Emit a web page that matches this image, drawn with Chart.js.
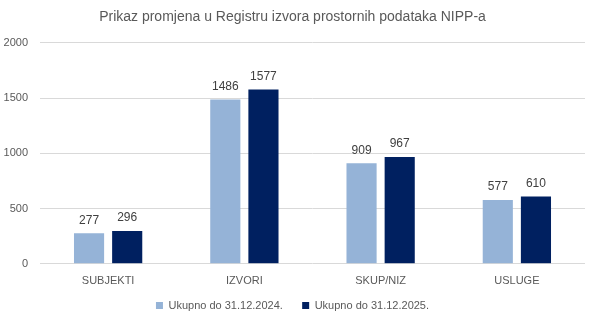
<!DOCTYPE html>
<html><head><meta charset="utf-8">
<script src="https://cdn.jsdelivr.net/npm/chart.js@4/dist/chart.umd.min.js"></script>
<style>html,body{margin:0;padding:0;background:#fff}#wrap{width:595px;height:323px}</style>
</head><body><div id="wrap"><canvas id="c"></canvas></div>
<script>
const categories = ["SUBJEKTI", "IZVORI", "SKUP/NIZ", "USLUGE"];
const series2024 = [277, 1486, 909, 577];
const series2025 = [296, 1577, 967, 610];
const seriesNames = ["Ukupno do 31.12.2024.", "Ukupno do 31.12.2025."];
const yTicks = [0, 500, 1000, 1500, 2000];

const FONT = '"Liberation Sans", Arial, sans-serif';
const labelPlugin = {
  id: 'vals',
  afterDatasetsDraw(chart) {
    const ctx = chart.ctx;
    ctx.save();
    ctx.font = '12px ' + FONT;
    ctx.fillStyle = '#404040';
    ctx.textAlign = 'center';
    ctx.textBaseline = 'bottom';
    chart.data.datasets.forEach((ds, i) => {
      chart.getDatasetMeta(i).data.forEach((bar, j) => {
        ctx.fillText(String(ds.data[j]), bar.x, bar.y - 7);
      });
    });
    ctx.restore();
  }
};

new Chart(document.getElementById('c'), {
  type: 'bar',
  data: {
    labels: categories,
    datasets: [
      { label: seriesNames[0], data: series2024, backgroundColor: '#95B3D7' },
      { label: seriesNames[1], data: series2025, backgroundColor: '#002060' }
    ]
  },
  options: {
    responsive: true,
    maintainAspectRatio: false,
    animation: false,
    devicePixelRatio: 1,
    layout: { padding: { left: 0, right: 10, top: 4, bottom: 2 } },
    datasets: { bar: { categoryPercentage: 0.56, barPercentage: 0.79 } },
    plugins: {
      title: {
        display: true,
        text: 'Prikaz promjena u Registru izvora prostornih podataka NIPP-a',
        color: '#595959',
        font: { family: FONT, size: 14, weight: 'normal' },
        padding: { top: 5, bottom: 17 }
      },
      legend: {
        position: 'bottom',
        labels: {
          color: '#595959',
          font: { family: FONT, size: 11 },
          boxWidth: 7, boxHeight: 7, padding: 1,
          generateLabels(chart) {
            const items = Chart.defaults.plugins.legend.labels.generateLabels(chart);
            items.forEach((it, i) => { if (i < items.length - 1) it.text = it.text + '      '; });
            return items;
          }
        }
      },
      tooltip: { enabled: false }
    },
    scales: {
      x: {
        grid: { display: false, drawTicks: false },
        border: { display: false },
        ticks: { color: '#595959', font: { family: FONT, size: 11 }, padding: 11 }
      },
      y: {
        min: 0, max: 2000,
        afterBuildTicks(axis) { axis.ticks = yTicks.map(v => ({ value: v })); },
        afterFit(axis) { axis.width = 40; },
        grid: { color: '#d9d9d9', drawTicks: false },
        border: { display: false },
        ticks: { color: '#595959', font: { family: FONT, size: 11 }, padding: 12, callback: v => String(v) }
      }
    }
  },
  plugins: [labelPlugin]
});
</script></body></html>
